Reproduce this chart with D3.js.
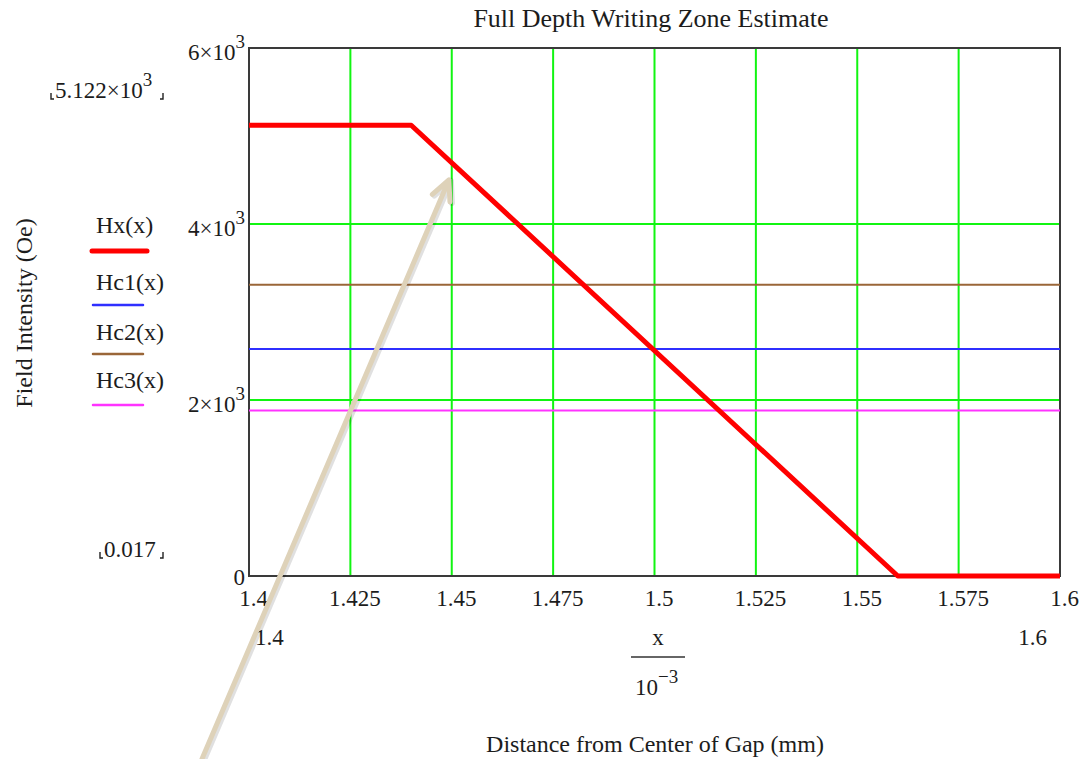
<!DOCTYPE html>
<html><head><meta charset="utf-8">
<script src="https://cdn.jsdelivr.net/npm/d3@7"></script>
<style>
body{margin:0;background:#fff;}
text{font-family:"Liberation Serif","Times New Roman",serif;fill:#1c1c1c;}
</style>
</head><body><svg id="c" width="1079" height="759"></svg>
<script>
// ---- data ----
const xValues = [1.4, 1.44, 1.56, 1.6];
const hxValues = [5122, 5122, 0.017, 0.017];
const hcX = [1.4, 1.6];
const hc1Values = [2580, 2580];
const hc2Values = [3310, 3310];
const hc3Values = [1880, 1880];
const seriesNames = ["Hx(x)", "Hc1(x)", "Hc2(x)", "Hc3(x)"];
const seriesColors = ["#ff0000", "#2f2fff", "#9a6638", "#ff33ff"];
const xTicks = [1.4, 1.425, 1.45, 1.475, 1.5, 1.525, 1.55, 1.575, 1.6];
const yTicks = [0, 2000, 4000, 6000];
const yTickMant = ["0", "2×10", "4×10", "6×10"];
const yTickExp = ["", "3", "3", "3"];
const titleText = "Full Depth Writing Zone Estimate";
const yLabelText = "Field Intensity (Oe)";
const xLabelText = "Distance from Center of Gap (mm)";
const yMaxText = "5.122×10", yMaxExp = "3", yMinText = "0.017";
const xMinText = "1.4", xMaxText = "1.6";
// annotation arrow, in data units
const arrowTail = [1.3884, -2080];
const arrowTip = [1.4493, 4500];

// ---- layout ----
const svg = d3.select("#c");
const L = 249, R = 1060, T = 48, B = 576;
const x = d3.scaleLinear().domain([1.4, 1.6]).range([L, R]);
const y = d3.scaleLinear().domain([0, 6000]).range([B, T]);
const FS = 23, SUP = 19, SUPDY = -12;

// grid
const g = svg.append("g");
g.selectAll(".vg").data(xTicks.slice(1, -1)).join("line")
  .attr("x1", d => x(d)).attr("x2", d => x(d)).attr("y1", T).attr("y2", B)
  .attr("stroke", "#11f511").attr("stroke-width", 2);
g.selectAll(".hg").data(yTicks.slice(1, -1)).join("line")
  .attr("y1", d => y(d)).attr("y2", d => y(d)).attr("x1", L).attr("x2", R)
  .attr("stroke", "#11f511").attr("stroke-width", 2);

// frame
svg.append("rect").attr("x", L).attr("y", T).attr("width", R - L).attr("height", B - T)
  .attr("fill", "none").attr("stroke", "#3a3a3a").attr("stroke-width", 2);

// Hc lines
const line = d3.line().x(d => x(d[0])).y(d => y(d[1]));
[[hc1Values, 1], [hc2Values, 2], [hc3Values, 3]].forEach(([vals, i]) => {
  svg.append("path").datum(hcX.map((v, k) => [v, vals[k]]))
    .attr("d", line).attr("fill", "none").attr("stroke", seriesColors[i]).attr("stroke-width", 2);
});
// Hx
svg.append("path").datum(xValues.map((v, k) => [v, hxValues[k]]))
  .attr("d", line).attr("fill", "none").attr("stroke", seriesColors[0])
  .attr("stroke-width", 5).attr("stroke-linejoin", "round");

// y axis labels
const yAx = svg.append("g").attr("transform", `translate(${L},0)`)
  .call(d3.axisLeft(y).tickValues(yTicks).tickSize(0).tickPadding(4));
yAx.select(".domain").remove();
yAx.selectAll("text").each(function (d, i) {
  const t = d3.select(this).text(null).attr("dy", d === 0 ? 8 : 11).attr("x", -4)
    .attr("font-size", FS).attr("font-family", null).attr("fill", "#1c1c1c");
  t.append("tspan").text(yTickMant[i]);
  if (yTickExp[i]) t.append("tspan").attr("dy", SUPDY).attr("font-size", SUP).text(yTickExp[i]);
});

// x axis labels
const xAx = svg.append("g").attr("transform", `translate(0,${B})`)
  .call(d3.axisBottom(x).tickValues(xTicks).tickSize(0).tickFormat(d => String(+d.toFixed(3))));
xAx.select(".domain").remove();
xAx.selectAll("text").attr("y", 30).attr("dy", 0).attr("dx", 4)
  .attr("font-size", FS).attr("font-family", null).attr("fill", "#1c1c1c");

// title
svg.append("text").attr("x", 651).attr("y", 27).attr("text-anchor", "middle")
  .attr("font-size", 26).text(titleText);

// y label
svg.append("text").attr("transform", "translate(32,313) rotate(-90)")
  .attr("text-anchor", "middle").attr("font-size", 24).text(yLabelText);

// x label
svg.append("text").attr("x", 655).attr("y", 752).attr("text-anchor", "middle")
  .attr("font-size", 24).text(xLabelText);

// fraction x / 10^-3
svg.append("text").attr("x", 658).attr("y", 645).attr("text-anchor", "middle")
  .attr("font-size", FS).text("x");
svg.append("line").attr("x1", 631).attr("x2", 685).attr("y1", 657).attr("y2", 657)
  .attr("stroke", "#333").attr("stroke-width", 1.6);
const den = svg.append("text").attr("x", 635).attr("y", 695).attr("font-size", FS);
den.append("tspan").text("10");
den.append("tspan").attr("dy", SUPDY).attr("font-size", SUP).text("−3");

// x min / max
svg.append("text").attr("x", 255).attr("y", 645).attr("font-size", FS).text(xMinText);
svg.append("text").attr("x", 1047).attr("y", 645).attr("text-anchor", "end").attr("font-size", FS).text(xMaxText);

// y max / min with placeholder brackets
function bracketed(xl, xr, base, main, exp) {
  const t = svg.append("text").attr("x", xl + 4).attr("y", base).attr("font-size", FS);
  t.append("tspan").text(main);
  if (exp) t.append("tspan").attr("dy", SUPDY).attr("font-size", SUP).text(exp);
  svg.append("path").attr("d", `M${xl},${base - 5}v6h3`).attr("fill", "none").attr("stroke", "#222").attr("stroke-width", 1.4);
  svg.append("path").attr("d", `M${xr - 3},${base + 1}h3v-6`).attr("fill", "none").attr("stroke", "#222").attr("stroke-width", 1.4);
}
bracketed(51, 163, 98, yMaxText, yMaxExp);
bracketed(100, 163, 557, yMinText, "");

// legend
const legTextY = [233, 290, 340, 388];
const legLineY = [251, 305, 354, 405];
seriesNames.forEach((n, i) => {
  svg.append("text").attr("x", 96).attr("y", legTextY[i]).attr("font-size", 24).text(n);
  svg.append("line").attr("x1", i ? 93 : 92).attr("x2", i ? 143 : 147)
    .attr("y1", legLineY[i]).attr("y2", legLineY[i])
    .attr("stroke", seriesColors[i]).attr("stroke-width", i ? 2.5 : 5).attr("stroke-linecap", "round");
});

// annotation arrow
const tx = x(arrowTail[0]), ty = y(arrowTail[1]), hx = x(arrowTip[0]), hy = y(arrowTip[1]);
const ang = Math.atan2(ty - hy, tx - hx);
const wl = 22, wa = 0.45;
const ag = svg.append("g");
const arrowPath = `M${tx},${ty}L${hx},${hy}M${hx + wl * Math.cos(ang + wa)},${hy + wl * Math.sin(ang + wa)}L${hx},${hy}L${hx + wl * Math.cos(ang - wa)},${hy + wl * Math.sin(ang - wa)}`;
ag.append("path").attr("d", arrowPath).attr("transform", "translate(2,1)")
  .attr("fill", "none").attr("stroke", "#000").attr("stroke-opacity", 0.12)
  .attr("stroke-width", 6).attr("stroke-linecap", "round").attr("stroke-linejoin", "round");
ag.append("path").attr("d", arrowPath)
  .attr("fill", "none").attr("stroke", "#ded2b9").attr("stroke-width", 5)
  .attr("stroke-linecap", "round").attr("stroke-linejoin", "round");
</script></body></html>
